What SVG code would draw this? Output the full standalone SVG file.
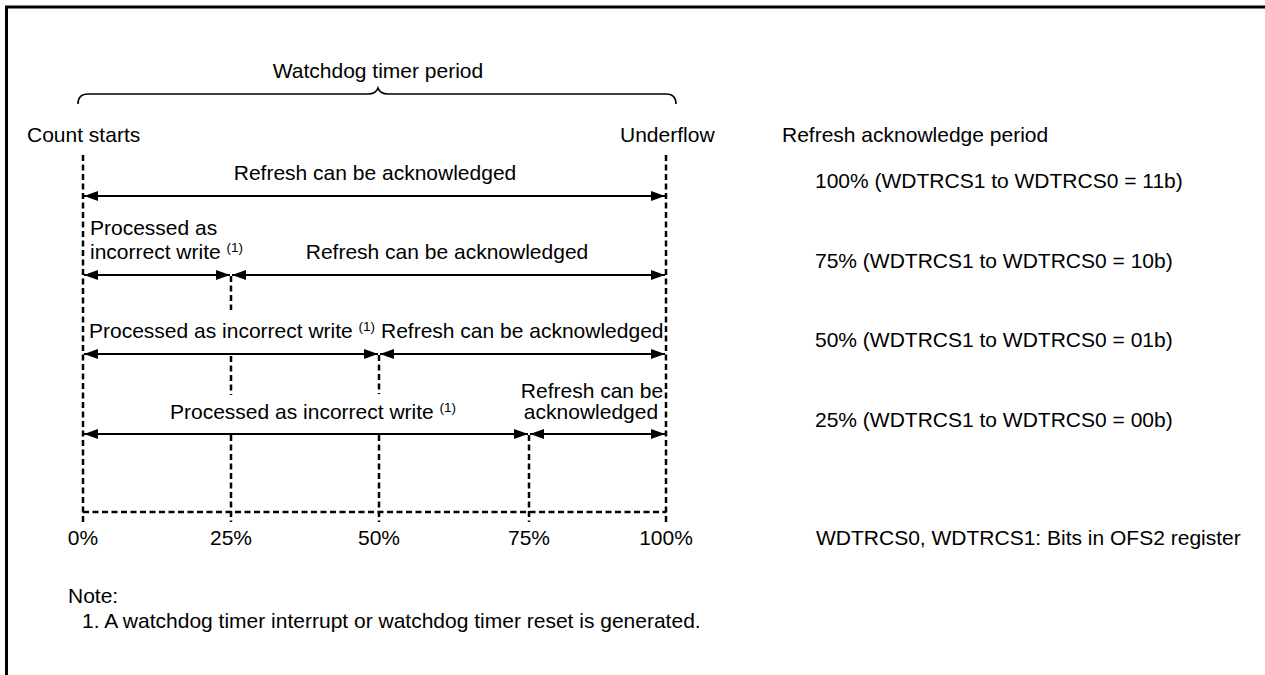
<svg xmlns="http://www.w3.org/2000/svg" width="1265" height="675" viewBox="0 0 1265 675">
<style>
text{font-family:"Liberation Sans",Arial,sans-serif;font-size:21px;fill:#000}
.sup{font-size:13.5px}
.mid{text-anchor:middle}
.dash{stroke:#000;stroke-width:2.5;stroke-dasharray:6 3.5;fill:none}
.arr{stroke:#000;stroke-width:1.8;fill:none;marker-start:url(#ah);marker-end:url(#ah)}
</style>
<defs>
<marker id="ah" markerUnits="userSpaceOnUse" markerWidth="15" markerHeight="11" refX="14" refY="5" orient="auto-start-reverse">
<path d="M0,0 L14,5 L0,10 z" fill="#000"/>
</marker>
</defs>
<rect x="0" y="0" width="1265" height="675" fill="#fff"/>
<rect id="frame" x="6.5" y="7" width="1300" height="700" fill="none" stroke="#000" stroke-width="3"/>

<g id="header">
<text class="mid" x="378" y="78">Watchdog timer period</text>
<path d="M78,104 Q78,94 88,94 L368,94 Q376,94 378,88 Q380,94 388,94 L666,94 Q676,94 676,104" fill="none" stroke="#000" stroke-width="1.6"/>
<text x="27" y="142">Count starts</text>
<text x="620" y="142">Underflow</text>
<text x="782" y="142">Refresh acknowledge period</text>
</g>

<g id="guides">
<line class="dash" x1="83" y1="155" x2="83" y2="522"/>
<line class="dash" x1="666" y1="155" x2="666" y2="522"/>
<line class="dash" x1="231" y1="276" x2="231" y2="310"/>
<line class="dash" x1="231" y1="356" x2="231" y2="395"/>
<line class="dash" x1="231" y1="435" x2="231" y2="522"/>
<line class="dash" x1="379" y1="355" x2="379" y2="394"/>
<line class="dash" x1="379" y1="435" x2="379" y2="522"/>
<line class="dash" x1="529" y1="435" x2="529" y2="522"/>
<line class="dash" x1="83" y1="512" x2="666" y2="512"/>
</g>

<g id="connectors">
<line class="arr" x1="84" y1="196" x2="665" y2="196"/>
<line class="arr" x1="84" y1="275" x2="230" y2="275"/>
<line class="arr" x1="232" y1="275" x2="665" y2="275"/>
<line class="arr" x1="84" y1="354" x2="378" y2="354"/>
<line class="arr" x1="380" y1="354" x2="665" y2="354"/>
<line class="arr" x1="84" y1="434" x2="528" y2="434"/>
<line class="arr" x1="530" y1="434" x2="665" y2="434"/>
</g>

<g id="row1">
<text class="mid" x="375" y="180">Refresh can be acknowledged</text>
<text x="815" y="188">100% (WDTRCS1 to WDTRCS0 = 11b)</text>
</g>
<g id="row2">
<text x="90" y="235">Processed as</text>
<text x="90" y="259">incorrect write <tspan class="sup" dy="-7">(1)</tspan></text>
<text class="mid" x="447" y="259">Refresh can be acknowledged</text>
<text x="815" y="268">75% (WDTRCS1 to WDTRCS0 = 10b)</text>
</g>
<g id="row3">
<text x="89" y="338">Processed as incorrect write <tspan class="sup" dy="-7">(1)</tspan></text>
<text x="381" y="338">Refresh can be acknowledged</text>
<text x="815" y="347">50% (WDTRCS1 to WDTRCS0 = 01b)</text>
</g>
<g id="row4">
<text x="170" y="419">Processed as incorrect write <tspan class="sup" dy="-7">(1)</tspan></text>
<text class="mid" x="592" y="398">Refresh can be</text>
<text class="mid" x="591" y="419">acknowledged</text>
<text x="815" y="427">25% (WDTRCS1 to WDTRCS0 = 00b)</text>
</g>

<g id="scale">
<text class="mid" x="83" y="545">0%</text>
<text class="mid" x="231" y="545">25%</text>
<text class="mid" x="379" y="545">50%</text>
<text class="mid" x="529" y="545">75%</text>
<text class="mid" x="666" y="545">100%</text>
<text x="816" y="545">WDTRCS0, WDTRCS1: Bits in OFS2 register</text>
</g>

<g id="note">
<text x="68" y="603">Note:</text>
<text x="82" y="628">1. A watchdog timer interrupt or watchdog timer reset is generated.</text>
</g>
</svg>
